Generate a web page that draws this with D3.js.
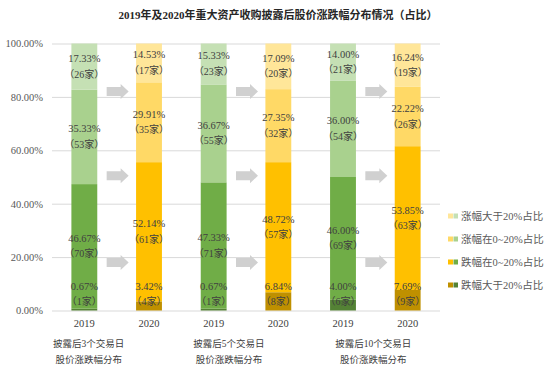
<!DOCTYPE html>
<html>
<head>
<meta charset="utf-8">
<script src="https://cdn.jsdelivr.net/npm/d3@7"></script>
<style>
  body { margin: 0; background: #fff; }
  text { font-family: 'Liberation Serif', 'Noto Sans CJK SC', serif; }
</style>
</head>
<body>
<script>
const categories = ['g1-2019', 'g1-2020', 'g2-2019', 'g2-2020', 'g3-2019', 'g3-2020'];
const years = ['2019', '2020', '2019', '2020', '2019', '2020'];
const groupLine1 = ['披露后3个交易日', '披露后5个交易日', '披露后10个交易日'];
const groupLine2 = ['股价涨跌幅分布', '股价涨跌幅分布', '股价涨跌幅分布'];
const seriesNames = ['跌幅大于20%占比', '跌幅在0~20%占比', '涨幅在0~20%占比', '涨幅大于20%占比'];

const drop20 = [0.67, 3.42, 0.67, 6.84, 4.00, 7.69];
const drop0to20 = [46.67, 52.14, 47.33, 48.72, 46.00, 53.85];
const rise0to20 = [35.33, 29.91, 36.67, 27.35, 36.00, 22.22];
const rise20 = [17.33, 14.53, 15.33, 17.09, 14.00, 16.24];

const drop20Cnt = [1, 4, 1, 8, 6, 9];
const drop0to20Cnt = [70, 61, 71, 57, 69, 63];
const rise0to20Cnt = [53, 35, 55, 32, 54, 26];
const rise20Cnt = [26, 17, 23, 20, 21, 19];

const yTicks = [0, 20, 40, 60, 80, 100];
const arrowLevels = [82, 50.5, 18];

const green = ['#548235', '#70AD47', '#A9D18E', '#C5E0B4'];
const yellow = ['#BF9000', '#FFC000', '#FFD966', '#FFE699'];

const w = 550, h = 372;
const padLeft = 52, padRight = 440, padTop = 43.5, padBottom = 310.5;

const keys = ['drop20', 'drop0to20', 'rise0to20', 'rise20'];
const values = [drop20, drop0to20, rise0to20, rise20];
const counts = [drop20Cnt, drop0to20Cnt, rise0to20Cnt, rise20Cnt];
const table = categories.map((c, i) => {
  const row = { cat: c };
  keys.forEach((k, j) => row[k] = values[j][i]);
  return row;
});
const series = d3.stack().keys(keys)(table);

const xScale = d3.scaleBand().domain(categories).range([padLeft, padRight]).paddingInner(0.6).paddingOuter(0.3);
const yScale = d3.scaleLinear().domain([0, 100]).range([padBottom, padTop]);
const bw = xScale.bandwidth();

const svg = d3.select('body').append('svg').attr('width', w).attr('height', h);

svg.append('text')
   .text('2019年及2020年重大资产收购披露后股价涨跌幅分布情况（占比）')
   .attr('x', 278).attr('y', 19)
   .attr('text-anchor', 'middle')
   .attr('font-size', 11).attr('font-weight', 'bold').attr('fill', '#262626');

// gridlines + y labels
const yAxis = d3.axisLeft(yScale).tickValues(yTicks)
                .tickFormat(d => d.toFixed(2) + '%')
                .tickSize(-(padRight - padLeft)).tickPadding(9);
const gy = svg.append('g').attr('transform', 'translate(' + padLeft + ',0)').call(yAxis);
gy.select('.domain').remove();
gy.selectAll('line').attr('stroke', '#D9D9D9');
gy.selectAll('text').attr('font-size', 10.5).attr('fill', '#595959')
  .attr('font-family', "'Liberation Serif', serif");

// bars
series.forEach((s, j) => {
  svg.append('g').selectAll('rect')
     .data(s)
     .enter()
     .append('rect')
     .attr('x', d => xScale(d.data.cat))
     .attr('y', d => yScale(d[1]))
     .attr('width', bw)
     .attr('height', d => yScale(d[0]) - yScale(d[1]))
     .attr('fill', (d, i) => i % 2 === 0 ? green[j] : yellow[j]);
});

// data labels
series.forEach((s, j) => {
  const g = svg.append('g');
  s.forEach((d, i) => {
    const mid = Math.max((d[0] + d[1]) / 2, 6);
    const cx = xScale(d.data.cat) + bw / 2;
    const cy = yScale(mid);
    g.append('text').text(values[j][i].toFixed(2) + '%')
     .attr('x', cx).attr('y', cy - 4.5)
     .attr('text-anchor', 'middle').attr('font-size', 10.5).attr('fill', '#404040');
    g.append('text').text('（' + counts[j][i] + '家）')
     .attr('x', cx).attr('y', cy + 11)
     .attr('text-anchor', 'middle').attr('font-size', 10).attr('fill', '#404040');
  });
});

// arrows between each year pair
const arrowG = svg.append('g');
for (let gi = 0; gi < 3; gi++) {
  const x0 = xScale(categories[gi * 2]) + bw;
  const x1 = xScale(categories[gi * 2 + 1]);
  const cx = (x0 + x1) / 2 + 1;
  arrowLevels.forEach(lv => {
    const cy = yScale(lv);
    const a = cx - 11, b = cx + 3, e = cx + 11;
    arrowG.append('path')
      .attr('d', `M${a},${cy - 4.5}L${b},${cy - 4.5}L${b},${cy - 7.5}L${e},${cy}L${b},${cy + 7.5}L${b},${cy + 4.5}L${a},${cy + 4.5}Z`)
      .attr('fill', '#D0D0D0');
  });
}

// year labels
svg.append('g').selectAll('text')
   .data(categories)
   .enter()
   .append('text')
   .text((d, i) => years[i])
   .attr('x', d => xScale(d) + bw / 2)
   .attr('y', 327)
   .attr('text-anchor', 'middle').attr('font-size', 10.5).attr('fill', '#404040');

// group labels
const groupShift = [-28, -17, -2];
groupLine1.forEach((t, gi) => {
  const gx = (xScale(categories[gi * 2]) + xScale(categories[gi * 2 + 1]) + bw) / 2 + groupShift[gi];
  svg.append('text').text(t).attr('x', gx).attr('y', 347)
     .attr('text-anchor', 'middle').attr('font-size', 9.5).attr('fill', '#404040');
  svg.append('text').text(groupLine2[gi]).attr('x', gx).attr('y', 363)
     .attr('text-anchor', 'middle').attr('font-size', 9.5).attr('fill', '#404040');
});

// legend
const legend = svg.append('g');
const order = [3, 2, 1, 0];
order.forEach((j, k) => {
  const ly = 216 + k * 23;
  legend.append('rect').attr('x', 448).attr('y', ly - 2.5).attr('width', 5).attr('height', 5).attr('fill', yellow[j]);
  legend.append('rect').attr('x', 453.5).attr('y', ly - 2.5).attr('width', 4.5).attr('height', 5).attr('fill', green[j]);
  legend.append('text').text(seriesNames[j])
        .attr('x', 461).attr('y', ly + 4)
        .attr('font-size', 10.5).attr('fill', '#595959');
});
</script>
</body>
</html>
